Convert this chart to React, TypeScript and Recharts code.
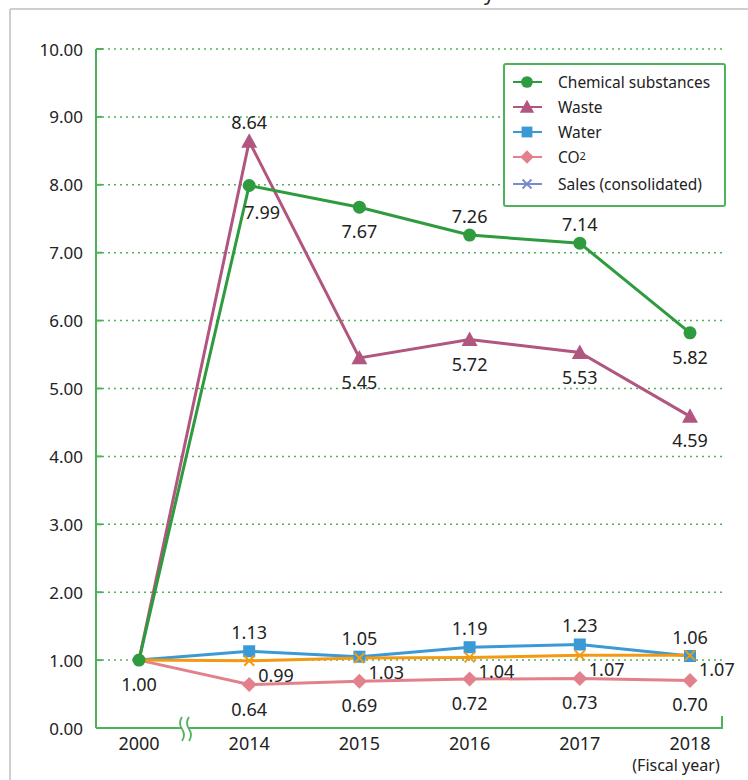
import React from 'react';
import { LineChart, Line, XAxis, YAxis, CartesianGrid, Legend } from 'recharts';

const years = ['2000', '2014', '2015', '2016', '2017', '2018'];
const chemical = [1.0, 7.99, 7.67, 7.26, 7.14, 5.82];
const waste = [1.0, 8.64, 5.45, 5.72, 5.53, 4.59];
const water = [1.0, 1.13, 1.05, 1.19, 1.23, 1.06];
const co2 = [1.0, 0.64, 0.69, 0.72, 0.73, 0.7];
const sales = [1.0, 0.99, 1.03, 1.04, 1.07, 1.07];
const yTicks = [0, 1, 2, 3, 4, 5, 6, 7, 8, 9, 10];

// label placement (styling only)
const chemPlace = ['b', 'br', 'b', 'a', 'a', 'b'];
const wastePlace = ['n', 'a', 'b', 'b', 'b', 'b'];
const waterPlace = ['n', 'a', 'a', 'a', 'a', 'a'];
const co2Place = ['n', 'b', 'b', 'b', 'b', 'b'];
const salesPlace = ['n', 'r', 'r', 'r', 'r', 'r'];

const data = years.map((year, i) => ({
  year,
  chemical: chemical[i],
  waste: waste[i],
  water: water[i],
  co2: co2[i],
  sales: sales[i],
}));

const FONT = '"Noto Sans", sans-serif';
const AXIS_GREEN = '#4db35a';
const C_CHEM = '#2e9b3e';
const C_WASTE = '#b0567f';
const C_WATER = '#3b9ad6';
const C_CO2 = '#e2818b';
const C_SALES = '#f39a12';
const C_SALES_LEG = '#7a8ccc';
const TEXT = '#222';

type Shape = 'circle' | 'triangle' | 'square' | 'diamond' | 'cross';

function Marker({ shape, cx, cy, color, s = 1 }: { shape: Shape; cx: number; cy: number; color: string; s?: number }) {
  if (shape === 'circle') return <circle cx={cx} cy={cy} r={6.5 * s} fill={color} />;
  if (shape === 'triangle') {
    const w = 8 * s, h = 8 * s;
    return <polygon points={`${cx},${cy - h} ${cx + w},${cy + h * 0.8} ${cx - w},${cy + h * 0.8}`} fill={color} />;
  }
  if (shape === 'square') return <rect x={cx - 6 * s} y={cy - 6 * s} width={12 * s} height={12 * s} fill={color} />;
  if (shape === 'diamond') {
    const d = 7.5 * s;
    return <polygon points={`${cx},${cy - d} ${cx + d},${cy} ${cx},${cy + d} ${cx - d},${cy}`} fill={color} />;
  }
  const d = 5 * s;
  return (
    <g stroke={color} strokeWidth={2}>
      <line x1={cx - d} y1={cy - d} x2={cx + d} y2={cy + d} />
      <line x1={cx - d} y1={cy + d} x2={cx + d} y2={cy - d} />
    </g>
  );
}

function makeDot(shape: Shape, color: string, values: number[], places: string[], showFirst: boolean) {
  return (props: any) => {
    const { cx, cy, index } = props;
    if (cx == null || cy == null) return <g key={`d-${index}`} />;
    const p = places[index];
    let label: React.ReactNode = null;
    const txt = values[index].toFixed(2);
    const common = { fill: TEXT, fontSize: 18, fontFamily: FONT, dominantBaseline: 'central' as const };
    if (p === 'a') label = <text x={cx} y={cy - 19} textAnchor="middle" {...common}>{txt}</text>;
    else if (p === 'b') label = <text x={cx} y={cy + 24} textAnchor="middle" {...common}>{txt}</text>;
    else if (p === 'br') label = <text x={cx + 13} y={cy + 27} textAnchor="middle" {...common}>{txt}</text>;
    else if (p === 'r') label = <text x={cx + 9} y={cy + 14} textAnchor="start" {...common}>{txt}</text>;
    return (
      <g key={`d-${index}`}>
        {(showFirst || index > 0) && <Marker shape={shape} cx={cx} cy={cy} color={color} />}
        {label}
      </g>
    );
  };
}

const legendItems: { name: React.ReactNode; shape: Shape; color: string }[] = [
  { name: 'Chemical substances', shape: 'circle', color: C_CHEM },
  { name: 'Waste', shape: 'triangle', color: C_WASTE },
  { name: 'Water', shape: 'square', color: C_WATER },
  { name: <>CO<span style={{ fontSize: 11, verticalAlign: '3px' }}>2</span></>, shape: 'diamond', color: C_CO2 },
  { name: 'Sales (consolidated)', shape: 'cross', color: C_SALES_LEG },
];

const renderLegend = () => (
  <div
    style={{
      width: 219,
      height: 136,
      border: `2px solid ${AXIS_GREEN}`,
      borderRadius: 3,
      background: '#fff',
      boxSizing: 'content-box',
      paddingTop: 4,
      fontFamily: FONT,
    }}
  >
    {legendItems.map((it, i) => (
      <div key={i} style={{ display: 'flex', alignItems: 'center', height: 25, marginTop: i === 4 ? 2 : 0 }}>
        <svg width={48} height={20} style={{ marginLeft: 5 }}>
          <line x1={3} y1={10} x2={32} y2={10} stroke={it.color} strokeWidth={2} />
          <Marker shape={it.shape} cx={17} cy={10} color={it.color} s={0.9} />
        </svg>
        <span style={{ fontSize: 15.5, color: TEXT, whiteSpace: 'nowrap' }}>{it.name}</span>
      </div>
    ))}
  </div>
);

const YTick = (props: any) => {
  const { x, y, payload } = props;
  return (
    <g>
      <text x={x} y={y} textAnchor="end" dominantBaseline="central" fill={TEXT} fontSize={17} fontFamily={FONT}>
        {Number(payload.value).toFixed(2)}
      </text>
      <line x1={x + 13} x2={x + 19} y1={y} y2={y} stroke={AXIS_GREEN} strokeWidth={2} />
    </g>
  );
};

const XTick = (props: any) => {
  const { x, y, payload } = props;
  return (
    <g>
      <text x={x} y={y + 22} textAnchor="middle" fill={TEXT} fontSize={18} fontFamily={FONT}>
        {payload.value}
      </text>
      {payload.value === '2018' && (
        <text x={x - 14} y={y + 43} textAnchor="middle" fill={TEXT} fontSize={16} fontFamily={FONT}>
          (Fiscal year)
        </text>
      )}
    </g>
  );
};

export default function App() {
  return (
    <div style={{ position: 'absolute', left: 0, top: 0, width: 748, height: 780, background: '#fff' }}>
      <LineChart
        width={748}
        height={780}
        data={data}
        margin={{ top: 49, right: 26, bottom: 12, left: 36 }}
      >
        <CartesianGrid
          vertical={false}
          stroke={AXIS_GREEN}
          strokeWidth={1.5}
          strokeDasharray="2 4"
        />
        <XAxis
          dataKey="year"
          type="category"
          height={40}
          padding={{ left: 43, right: 32 }}
          axisLine={{ stroke: AXIS_GREEN, strokeWidth: 2 }}
          tickLine={false}
          tickSize={0}
          tickMargin={0}
          tick={<XTick />}
          interval={0}
        />
        <YAxis
          width={60}
          domain={[0, 10]}
          ticks={yTicks}
          axisLine={{ stroke: AXIS_GREEN, strokeWidth: 2 }}
          tickLine={false}
          tickSize={0}
          tickMargin={13}
          tick={<YTick />}
          interval={0}
        />
        <Legend
          layout="vertical"
          verticalAlign="middle"
          align="center"
          content={renderLegend}
          wrapperStyle={{ left: 503, top: 63, width: 223, height: 142 }}
        />
        <Line
          dataKey="waste"
          name="Waste"
          stroke={C_WASTE}
          strokeWidth={3}
          isAnimationActive={false}
          dot={makeDot('triangle', C_WASTE, waste, wastePlace, false)}
          activeDot={false}
        />
        <Line
          dataKey="water"
          name="Water"
          stroke={C_WATER}
          strokeWidth={3}
          isAnimationActive={false}
          dot={makeDot('square', C_WATER, water, waterPlace, false)}
          activeDot={false}
        />
        <Line
          dataKey="co2"
          name="CO2"
          stroke={C_CO2}
          strokeWidth={3}
          isAnimationActive={false}
          dot={makeDot('diamond', C_CO2, co2, co2Place, false)}
          activeDot={false}
        />
        <Line
          dataKey="sales"
          name="Sales (consolidated)"
          stroke={C_SALES}
          strokeWidth={3}
          isAnimationActive={false}
          dot={makeDot('cross', C_SALES, sales, salesPlace, false)}
          activeDot={false}
        />
        <Line
          dataKey="chemical"
          name="Chemical substances"
          stroke={C_CHEM}
          strokeWidth={3}
          isAnimationActive={false}
          dot={makeDot('circle', C_CHEM, chemical, chemPlace, true)}
          activeDot={false}
        />
      </LineChart>
      <svg
        width={748}
        height={780}
        style={{ position: 'absolute', left: 0, top: 0, pointerEvents: 'none' }}
      >
        <text x={484} y={0} fontSize={20} fill={TEXT} fontFamily={FONT}>y</text>
        <line x1={10} y1={9} x2={748} y2={9} stroke="#cfcfcf" strokeWidth={2} />
        <line x1={10} y1={9} x2={10} y2={780} stroke="#cfcfcf" strokeWidth={2} />
        <line x1={96} y1={49} x2={103} y2={49} stroke={AXIS_GREEN} strokeWidth={2} />
        <line x1={722} y1={716} x2={722} y2={729} stroke={AXIS_GREEN} strokeWidth={2} />
        <rect x={181} y={726} width={8} height={5} fill="#fff" />
        <path d="M182 717 Q178 723 182 729 Q186 735 182 741" fill="none" stroke={AXIS_GREEN} strokeWidth={1.8} />
        <path d="M189 717 Q185 723 189 729 Q193 735 189 741" fill="none" stroke={AXIS_GREEN} strokeWidth={1.8} />
      </svg>
    </div>
  );
}
